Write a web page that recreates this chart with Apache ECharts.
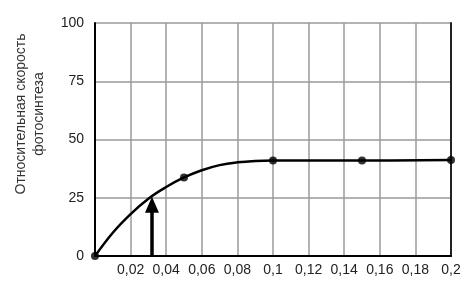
<!DOCTYPE html>
<html><head><meta charset="utf-8">
<script src="https://cdn.jsdelivr.net/npm/echarts@6/dist/echarts.min.js"></script>
<style>html,body{margin:0;padding:0;background:#fff}#c{width:469px;height:289px}</style>
</head><body><div id="c"></div>
<script>
// Data
const curveX = [0, 0.01, 0.02, 0.03, 0.04, 0.05, 0.06, 0.07, 0.08, 0.09, 0.1, 0.15, 0.2];
const curveY = [0, 10, 18, 24.6, 29.6, 33.7, 36.8, 39, 40.2, 40.8, 41, 41, 41.2];
const pointX = [0, 0.05, 0.1, 0.15, 0.2];
const pointY = [0, 33.7, 41, 41, 41.2];
const arrowX = 0.032;
const arrowFrom = 0;
const arrowTo = 25;
const yTicks = [0, 25, 50, 75, 100];
const yTitle = ['Относительная скорость', 'фотосинтеза'];

const chart = echarts.init(document.getElementById('c'));
const font = 'Liberation Sans, Arial, sans-serif';
chart.setOption({
  animation: false,
  grid: {left: 95, right: 18, top: 23, bottom: 33},
  xAxis: {
    type: 'value', min: 0, max: 0.2, interval: 0.02,
    axisLine: {show: true, lineStyle: {color: '#000', width: 2}},
    axisTick: {show: false},
    axisLabel: {
      margin: 7, fontSize: 14, color: '#222', fontFamily: font,
      formatter: v => v === 0 ? '' : String(Math.round(v * 100) / 100).replace('.', ',')
    },
    splitLine: {show: true, lineStyle: {color: '#9a9a9a', width: 1.5}}
  },
  yAxis: [{
    type: 'value', min: 0, max: 100, interval: 25,
    axisLine: {show: true, lineStyle: {color: '#000', width: 2}},
    axisTick: {show: false},
    axisLabel: {margin: 11, fontSize: 14, color: '#222', fontFamily: font,
      formatter: v => yTicks.includes(v) ? String(v) : ''},
    splitLine: {show: true, lineStyle: {color: '#9a9a9a', width: 1.5}}
  }, {
    type: 'value', min: 0, max: 100, interval: 25, position: 'right',
    axisLine: {show: true, lineStyle: {color: '#222', width: 2}},
    axisTick: {show: false}, axisLabel: {show: false}, splitLine: {show: false}
  }],
  graphic: [{
    type: 'text', x: 30, y: 114, rotation: Math.PI / 2,
    style: {text: yTitle.join('\n'), font: '14px ' + font, fill: '#333',
      align: 'center', verticalAlign: 'middle', lineHeight: 18}
  }],
  series: [{
    type: 'line', smooth: 0.4, symbol: 'none',
    data: curveX.map((x, i) => [x, curveY[i]]),
    lineStyle: {color: '#000', width: 2.5},
    markLine: {
      silent: true, symbol: ['none', 'triangle'], symbolSize: [14, 16],
      label: {show: false},
      lineStyle: {color: '#000', width: 3.5, type: 'solid'},
      data: [[{coord: [arrowX, arrowFrom]}, {coord: [arrowX, arrowTo - 3]}]]
    }
  }, {
    type: 'scatter', symbolSize: 8,
    data: pointX.map((x, i) => [x, pointY[i]]),
    itemStyle: {color: '#000'}
  }]
});
</script></body></html>
